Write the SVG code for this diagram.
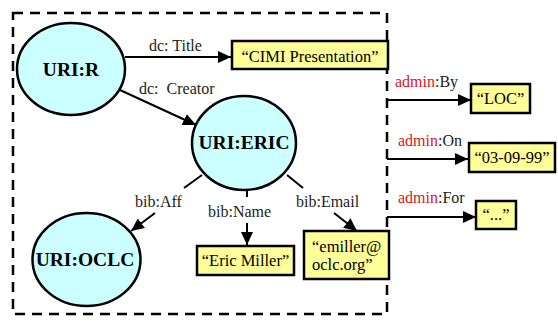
<svg xmlns="http://www.w3.org/2000/svg" width="558" height="331" viewBox="0 0 558 331">
<defs>
<style>
.frame{fill:none;stroke:#000;stroke-width:2.5;stroke-dasharray:10 7}
.res{fill:#ccffff;stroke:#000;stroke-width:2.5}
.lit{fill:#ffff99;stroke:#000;stroke-width:2.5}
text{font-family:'Liberation Serif',serif}
.nt{font-weight:bold;font-size:19.5px;text-anchor:middle;fill:#000}
.bt{font-size:16.5px;fill:#000}
.lb{font-size:16px;fill:#222;white-space:pre}
.red{fill:#e0141e}
.e{fill:none;stroke:#000;stroke-width:2}
</style>
<marker id="ah" markerUnits="userSpaceOnUse" markerWidth="14" markerHeight="12" refX="13" refY="6" orient="auto">
<path d="M0,0 L13,6 L0,12 Z" fill="#000"/>
</marker>
</defs>
<rect width="558" height="331" fill="#fff"/>
<rect class="frame" x="13" y="13" width="374" height="301"/>
<g id="connectors" font-family="Liberation Serif, serif">
<line class="e" x1="125" y1="57" x2="231" y2="57" marker-end="url(#ah)"/>
<line class="e" x1="120" y1="90" x2="196" y2="125" marker-end="url(#ah)"/>
<line class="e" x1="202" y1="175" x2="184" y2="188"/>
<line class="e" x1="155" y1="213" x2="131" y2="231" marker-end="url(#ah)"/>
<line class="e" x1="247" y1="190" x2="247" y2="197"/>
<line class="e" x1="247" y1="223" x2="247" y2="245" marker-end="url(#ah)"/>
<line class="e" x1="287" y1="175" x2="303" y2="188"/>
<line class="e" x1="334" y1="213" x2="357" y2="231" marker-end="url(#ah)"/>
<line class="e" x1="387" y1="100" x2="471" y2="100" marker-end="url(#ah)"/>
<line class="e" x1="387" y1="159" x2="468" y2="159" marker-end="url(#ah)"/>
<line class="e" x1="387" y1="217" x2="476" y2="217" marker-end="url(#ah)"/>
<text class="lb" x="149" y="51">dc: Title</text>
<text class="lb" x="139" y="94" xml:space="preserve">dc:  Creator</text>
<text class="lb" x="135" y="207">bib:Aff</text>
<text class="lb" x="208" y="217">bib:Name</text>
<text class="lb" x="296" y="207">bib:Email</text>
<text class="lb" x="395" y="87"><tspan class="red">admin</tspan>:By</text>
<text class="lb" x="398" y="146"><tspan class="red">admin</tspan>:On</text>
<text class="lb" x="398" y="203"><tspan class="red">admin</tspan>:For</text>
</g>
<g id="uri-r">
<ellipse class="res" cx="71" cy="69" rx="54" ry="46"/>
<text class="nt" x="71" y="76">URI:R</text>
</g>
<g id="uri-eric">
<ellipse class="res" cx="244" cy="143" rx="52" ry="47"/>
<text class="nt" x="244" y="149">URI:ERIC</text>
</g>
<g id="uri-oclc">
<ellipse class="res" cx="86.5" cy="259.5" rx="54" ry="46.5"/>
<text class="nt" x="85" y="266">URI:OCLC</text>
</g>
<g id="lit-title">
<rect class="lit" x="232" y="41" width="156" height="28"/>
<text class="bt" x="310" y="62" text-anchor="middle">“CIMI Presentation”</text>
</g>
<g id="lit-name">
<rect class="lit" x="197" y="246" width="97" height="29"/>
<text class="bt" x="245.5" y="266" text-anchor="middle">“Eric Miller”</text>
</g>
<g id="lit-email">
<rect class="lit" x="304" y="231" width="85" height="48"/>
<text class="bt" x="312" y="252">“emiller@</text>
<text class="bt" x="312" y="270">oclc.org”</text>
</g>
<g id="lit-loc">
<rect class="lit" x="471" y="84" width="59" height="29"/>
<text class="bt" x="500.5" y="104" text-anchor="middle">“LOC”</text>
</g>
<g id="lit-date">
<rect class="lit" x="469" y="143" width="86" height="29"/>
<text class="bt" x="512" y="163" text-anchor="middle">“03-09-99”</text>
</g>
<g id="lit-etc">
<rect class="lit" x="476" y="201" width="40" height="28"/>
<text class="bt" x="496" y="220" text-anchor="middle">“...”</text>
</g>
</svg>
